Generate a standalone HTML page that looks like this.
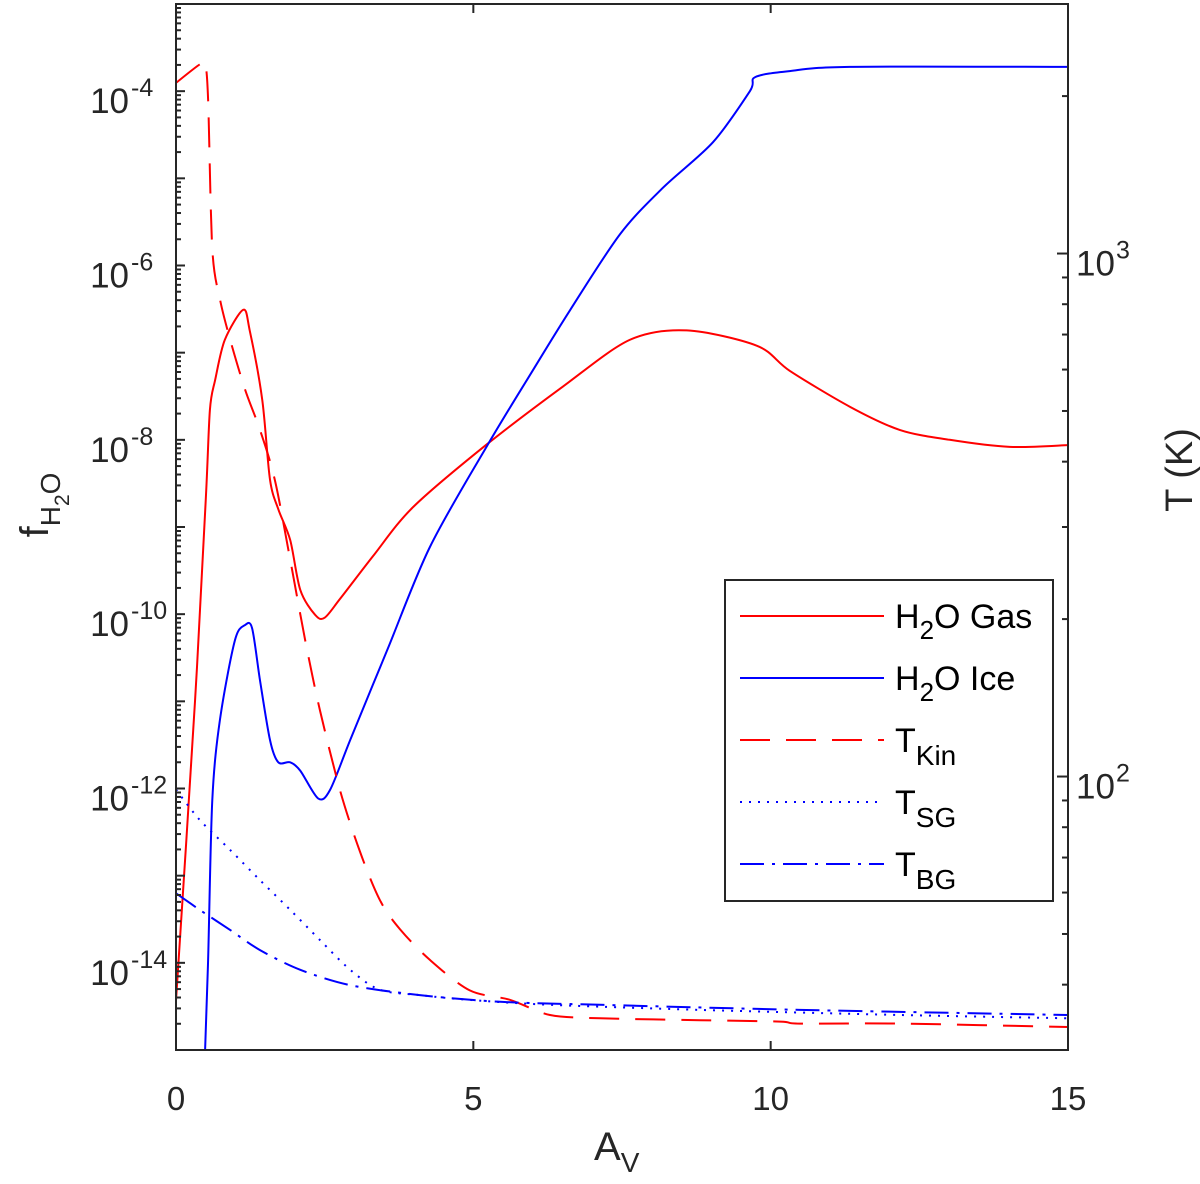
<!DOCTYPE html>
<html><head><meta charset="utf-8"><style>
html,body{margin:0;padding:0;background:#fff;}
svg{display:block;font-family:"Liberation Sans",sans-serif;}
</style></head><body>
<svg id="chart" width="1200" height="1184" viewBox="0 0 1200 1184" xmlns="http://www.w3.org/2000/svg"></svg>
<script>
const avGas=[0,0.32,0.50,0.57,0.66,0.82,1.13,1.24,1.45,1.58,1.72,1.92,2.09,2.34,2.5,2.76,3.31,3.99,5.23,6.51,7.63,8.59,9.77,10.32,11.33,12.17,13.01,14.02,15];
const fGas=[3.7e-15,1.0e-11,2.0e-9,2.2e-8,4.9e-8,1.4e-7,3.1e-7,1.8e-7,2.9e-8,3.5e-9,1.6e-9,7.1e-10,1.9e-10,9.8e-11,9.1e-11,1.5e-10,4.6e-10,1.7e-9,8.9e-9,4.1e-8,1.4e-7,1.8e-7,1.2e-7,6.2e-8,2.4e-8,1.3e-8,1.0e-8,8.3e-9,8.7e-9];
const avIce=[0.49,0.54,0.61,0.74,0.99,1.16,1.28,1.41,1.58,1.72,1.92,2.09,2.39,2.59,2.93,3.56,4.27,5.23,5.95,6.63,7.47,8.19,9.03,9.65,9.74,10.32,11.33,15];
const fIce=[1e-15,1.07e-14,7.4e-13,6.2e-12,5.0e-11,7.5e-11,6.9e-11,1.8e-11,3.6e-12,2.0e-12,2.0e-12,1.6e-12,7.7e-13,9.6e-13,3.6e-12,4.0e-11,5.9e-10,8.5e-9,5.5e-8,3.1e-7,2.3e-6,7.8e-6,2.6e-5,1.0e-4,1.45e-4,1.7e-4,1.9e-4,1.9e-4];
const avKin=[0,0.4,0.49,0.54,0.61,0.74,0.91,1.16,1.41,1.66,1.92,2.17,2.42,2.76,3.09,3.43,3.77,4.27,4.94,5.62,6.29,7.13,8.81,10.16,10.49,12.17,15];
const tKin=[2120,2300,2300,1970,1020,817,685,550,461,370,260,183,134,94,72,58,51,44.6,39,37.4,35,34.5,34.2,34,33.7,33.7,33.2];
const avSG=[0,0.4,0.91,1.41,1.92,2.42,2.93,3.43,4.1,4.94,6.29,8.81,12.17,15];
const tSG=[94.4,82.6,72.4,63.4,55.6,48.7,42.7,39.1,38.2,37.4,36.6,35.8,35.0,34.5];
const avBG=[0,0.4,0.91,1.41,2.09,2.93,4.1,5.45,7.13,10.49,15];
const tBG=[59.8,55.6,50.9,46.6,42.7,39.9,38.2,37.1,36.6,35.8,35.0];
const xTicks=[0,5,10,15];
const leftDecades=[-14,-12,-10,-8,-6,-4];
const rightMajor=[100,1000];

const L=176,R=1068,T=4,B=1050;
const X=a=>L+(a/15)*(R-L);
const YL=f=>T+(-3-Math.log10(f))/12*(B-T);
const lt0=Math.log10(30),lt1=Math.log10(3000);
const YR=t=>T+(lt1-Math.log10(t))/(lt1-lt0)*(B-T);
const svg=document.getElementById('chart');
const NS='http://www.w3.org/2000/svg';
function mk(tag,attrs,parent){const e=document.createElementNS(NS,tag);for(const k in attrs)e.setAttribute(k,attrs[k]);(parent||svg).appendChild(e);return e;}
const ax='#262626';

const clip=mk('clipPath',{id:'pc'});mk('rect',{x:L,y:T,width:R-L,height:B-T},clip);
const gSeries=mk('g',{'clip-path':'url(#pc)'});


function line(xs,ys,yf,color,dash,name){
  const pts=xs.map((a,i)=>[X(a),yf(ys[i])]);
  let d='M'+pts[0][0].toFixed(1)+','+pts[0][1].toFixed(1);
  for(let i=0;i<pts.length-1;i++){
    const p0=pts[Math.max(0,i-1)],p1=pts[i],p2=pts[i+1],p3=pts[Math.min(pts.length-1,i+2)];
    const t=0.15;
    const c1=[p1[0]+(p2[0]-p0[0])*t,p1[1]+(p2[1]-p0[1])*t];
    const c2=[p2[0]-(p3[0]-p1[0])*t,p2[1]-(p3[1]-p1[1])*t];
    d+='C'+c1[0].toFixed(1)+','+c1[1].toFixed(1)+' '+c2[0].toFixed(1)+','+c2[1].toFixed(1)+' '+p2[0].toFixed(1)+','+p2[1].toFixed(1);
  }
  const p=mk('path',{d:d,fill:'none',stroke:color,'stroke-width':2,'stroke-dasharray':dash},gSeries);
  
  
}
line(avGas,fGas,YL,'#ff0000','none','h2o-gas-line');
line(avIce,fIce,YL,'#0000ff','none','h2o-ice-line');
line(avKin,tKin,YR,'#ff0000','30,16','t-kin-line');
line(avSG,tSG,YR,'#0000ff','2,7','t-sg-line');
line(avBG,tBG,YR,'#0000ff','24,8,3,8','t-bg-line');

const frame=mk('rect',{x:L,y:T,width:R-L,height:B-T,fill:'none',stroke:ax,'stroke-width':2});



xTicks.forEach(v=>{
  const x=X(v);
  mk('line',{x1:x,y1:B,x2:x,y2:B-9,stroke:ax,'stroke-width':2});
  mk('line',{x1:x,y1:T,x2:x,y2:T+9,stroke:ax,'stroke-width':2});
  const t=mk('text',{x:x,y:B+60,'text-anchor':'middle','font-size':33,fill:ax});
  t.textContent=v;
  
  
});
for(let d=-15;d<-3;d++){
  for(let m=1;m<10;m++){
    const f=m*Math.pow(10,d);const y=YL(f);
    if(y<T-0.5||y>B+0.5)continue;
    mk('line',{x1:L,y1:y,x2:L+(m===1?9:5),y2:y,stroke:ax,'stroke-width':2});
  }
}
leftDecades.forEach(d=>{
  const y=YL(Math.pow(10,d));
  const t=mk('text',{x:129,y:y+22,'text-anchor':'end','font-size':35,fill:ax});
  
  
  t.textContent='10';
  const s=mk('text',{x:131,y:y+5,'text-anchor':'start','font-size':25,fill:ax});
  s.textContent=String(d);
  
  
});
[30,40,50,60,70,80,90,100,200,300,400,500,600,700,800,900,1000,2000,3000].forEach(v=>{
  const y=YR(v);const maj=rightMajor.includes(v);
  mk('line',{x1:R,y1:y,x2:R-(maj?11:6),y2:y,stroke:ax,'stroke-width':2});
});
rightMajor.forEach(v=>{
  const y=YR(v);
  const t=mk('text',{x:1076,y:y+22,'font-size':35,fill:ax});
  t.textContent='10';
  
  
  const s=mk('text',{x:1116,y:y+5,'font-size':25,fill:ax});
  s.textContent=String(Math.round(Math.log10(v)));
  
  
});
</script>
<svg style="position:absolute;left:0;top:0" width="1200" height="1184">
<g font-family="Liberation Sans, sans-serif" fill="#262626">
<text x="594" y="1160" font-size="40">A<tspan font-size="28" dy="12">V</tspan></text>
<g transform="translate(48,505) rotate(-90)"><text font-size="40" text-anchor="middle">f<tspan font-size="28" dy="12">H</tspan><tspan font-size="21" dy="9">2</tspan><tspan font-size="28" dy="-9">O</tspan></text></g>
<text transform="translate(1192,470) rotate(-90)" font-size="38" text-anchor="middle">T (K)</text>
</g>
<g>
<rect x="725" y="580" width="328" height="321" fill="#fff" stroke="#262626" stroke-width="2"/>
<line x1="740" y1="616" x2="884" y2="616" stroke="#ff0000" stroke-width="2"/>
<line x1="740" y1="678" x2="884" y2="678" stroke="#0000ff" stroke-width="2"/>
<line x1="740" y1="740" x2="884" y2="740" stroke="#ff0000" stroke-width="2" stroke-dasharray="30,16"/>
<line x1="740" y1="802" x2="884" y2="802" stroke="#0000ff" stroke-width="2" stroke-dasharray="2,7"/>
<line x1="740" y1="864" x2="884" y2="864" stroke="#0000ff" stroke-width="2" stroke-dasharray="24,8,3,8"/>
<g font-family="Liberation Sans, sans-serif" font-size="34" fill="#000">
<text x="895" y="628">H<tspan font-size="26" dy="11">2</tspan><tspan dy="-11">O Gas</tspan></text>
<text x="895" y="690">H<tspan font-size="26" dy="11">2</tspan><tspan dy="-11">O Ice</tspan></text>
<text x="895" y="752">T<tspan font-size="28" dy="13">Kin</tspan></text>
<text x="895" y="814">T<tspan font-size="28" dy="13">SG</tspan></text>
<text x="895" y="876">T<tspan font-size="28" dy="13">BG</tspan></text>
</g>
</g>
</svg>
</body></html>
